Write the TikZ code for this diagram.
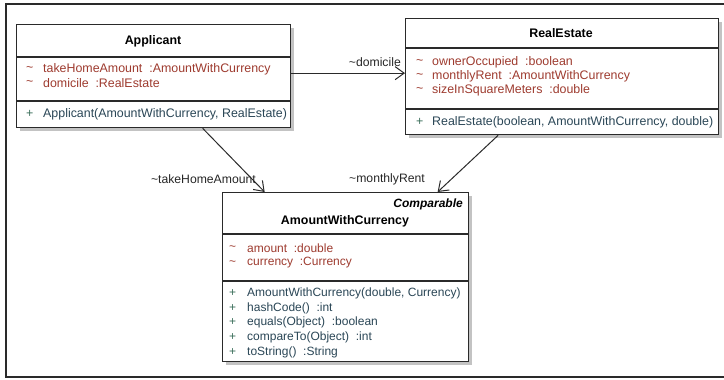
\documentclass[tikz,border=0pt]{standalone}
\usepackage{fontspec}
\setmainfont{Liberation Sans}
\usetikzlibrary{arrows.meta,shadows}
\definecolor{attrc}{HTML}{9E3B2F}
\definecolor{methc}{HTML}{2A4656}
\definecolor{plusc}{HTML}{3A6E5A}
\definecolor{linec}{HTML}{2A2A2A}
\definecolor{shadowc}{HTML}{B4B4B4}
\tikzset{
  classbox/.style={draw=linec, line width=1.3pt, fill=white, inner sep=0pt, anchor=north west,
    drop shadow={shadow xshift=3pt, shadow yshift=-3pt, fill=shadowc, opacity=0.8}},
  sepline/.style={draw=linec, line width=1.2pt},
  txt/.style={inner sep=0pt, anchor=west, font=\fontsize{12.4}{14}\selectfont},
  attr/.style={txt, text=attrc},
  meth/.style={txt, text=methc},
  plus/.style={txt, text=plusc},
  small/.style={font=\fontsize{12}{14}\selectfont},
  title/.style={inner sep=0pt, font=\fontsize{12.4}{14}\selectfont\bfseries},
  rolelabel/.style={inner sep=0pt, font=\fontsize{12.2}{14}\selectfont, text=black!85},
  assoc/.style={draw=linec, line width=1pt, -{Straight Barb[length=9pt,width=13pt,line width=1pt]}},
}
\begin{document}
\begin{tikzpicture}[x=1pt,y=-1pt]
\useasboundingbox (0,0) rectangle (724,380);
\begin{scope}
\clip (0,0) rectangle (724,380);
\draw[draw=linec, line width=1.5pt] (6,4) rectangle (740,377);
\end{scope}

% Applicant
\node[classbox, minimum width=274pt, minimum height=103pt] (app) at (16,24) {};
\draw[sepline] (app.west |- 0,57) -- (app.east |- 0,57);
\draw[sepline] (app.west |- 0,101) -- (app.east |- 0,101);
\node[title] (appt) at (153,41) {Applicant};
\node[attr] (appa1t) at (26,69) {\textasciitilde};
\node[attr] (appa1) at (43,69) {takeHomeAmount\ \ :AmountWithCurrency};
\node[attr] (appa2t) at (26,83) {\textasciitilde};
\node[attr] (appa2) at (43,83) {domicile\ \ :RealEstate};
\node[plus] (appm1p) at (26,114) {+};
\node[meth] (appm1) at (43,114) {Applicant(AmountWithCurrency, RealEstate)};

% RealEstate
\node[classbox, minimum width=313pt, minimum height=116pt] (re) at (405,18) {};
\draw[sepline] (re.west |- 0,48) -- (re.east |- 0,48);
\draw[sepline] (re.west |- 0,109) -- (re.east |- 0,109);
\node[title] (ret) at (561,33) {RealEstate};
\node[attr] (rea1t) at (416,62) {\textasciitilde};
\node[attr] (rea1) at (432,62) {ownerOccupied\ \ :boolean};
\node[attr] (rea2t) at (416,76) {\textasciitilde};
\node[attr] (rea2) at (432,76) {monthlyRent\ \ :AmountWithCurrency};
\node[attr] (rea3t) at (416,90) {\textasciitilde};
\node[attr] (rea3) at (432,90) {sizeInSquareMeters\ \ :double};
\node[plus] (rem1p) at (416,122) {+};
\node[meth] (rem1) at (432,122) {RealEstate(boolean, AmountWithCurrency, double)};

% AmountWithCurrency
\node[classbox, minimum width=246pt, minimum height=169pt] (awc) at (222,192) {};
\draw[sepline] (awc.west |- 0,234) -- (awc.east |- 0,234);
\draw[sepline] (awc.west |- 0,281) -- (awc.east |- 0,281);
\node[title, font=\fontsize{12}{14}\selectfont\bfseries\itshape, anchor=east] (awcs) at (463,204) {Comparable};
\node[title] (awct) at (345,221) {AmountWithCurrency};
\node[attr, small] (awca1t) at (229,248) {\textasciitilde};
\node[attr, small] (awca1) at (247,248) {amount\ \ :double};
\node[attr, small] (awca2t) at (229,263) {\textasciitilde};
\node[attr, small] (awca2) at (247,263) {currency\ \ :Currency};
\node[plus, small] (awcm1p) at (229,293) {+};
\node[meth, small] (awcm1) at (247,293) {AmountWithCurrency(double, Currency)};
\node[plus, small] (awcm2p) at (229,308) {+};
\node[meth, small] (awcm2) at (247,308) {hashCode()\ \ :int};
\node[plus, small] (awcm3p) at (229,322) {+};
\node[meth, small] (awcm3) at (247,322) {equals(Object)\ \ :boolean};
\node[plus, small] (awcm4p) at (229,337) {+};
\node[meth, small] (awcm4) at (247,337) {compareTo(Object)\ \ :int};
\node[plus, small] (awcm5p) at (229,352) {+};
\node[meth, small] (awcm5) at (247,352) {toString()\ \ :String};

% associations
\draw[assoc] ([yshift=3pt]app.east) -- ([yshift=3pt]app.east -| re.west);
\node[rolelabel, anchor=east] (lbldom) at (401,62) {\textasciitilde domicile};
\draw[assoc] ([xshift=49pt]app.south) -- ([xshift=-81pt]awc.north);
\node[rolelabel, anchor=east] (lblthm) at (256,179) {\textasciitilde takeHomeAmount};
\draw[assoc] ([xshift=-64pt]re.south) -- ([xshift=92pt]awc.north);
\node[rolelabel, anchor=east] (lblmr) at (425,179) {\textasciitilde monthlyRent};
\end{tikzpicture}
\end{document}
